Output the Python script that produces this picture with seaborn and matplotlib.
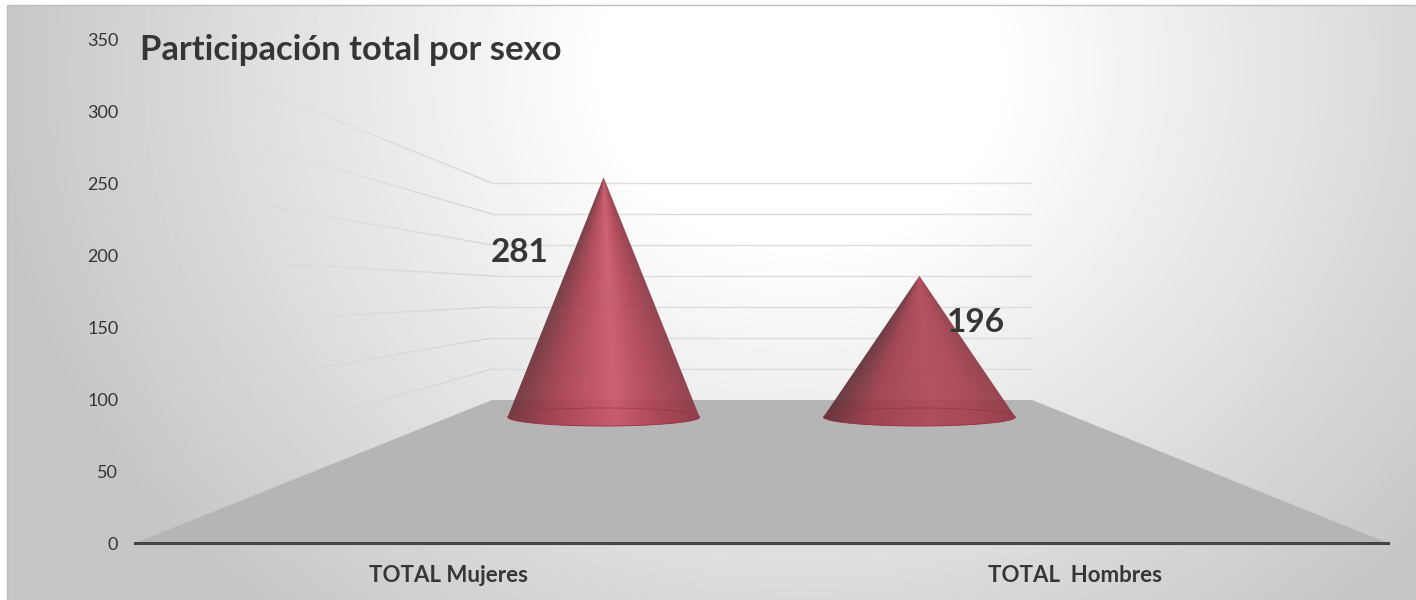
import numpy as np
import pandas as pd
import matplotlib.pyplot as plt
import seaborn as sns
from matplotlib.collections import LineCollection
from matplotlib.colors import LinearSegmentedColormap
from matplotlib.patches import Polygon, Rectangle

# --------------------- data ---------------------
categories = ["TOTAL Mujeres", "TOTAL  Hombres"]
data_labels = [281, 196]
cone_tops = [254, 185.5]     # apex height read against the front axis
cone_base = 87.5             # floor height under the cones, front axis
y_ticks = [0, 50, 100, 150, 200, 250, 300, 350]
title = "Participación total por sexo"

# perspective of the back wall
back_left, back_right = 0.07, 0.932
back_floor, back_scale = 99.3, 0.4306
depth_scale = 0.504

W, H = 1416, 600
TEXT = "#363636"

sns.set_theme(style="white")
plt.rcParams["font.family"] = ["Lato", "DejaVu Sans"]

fig = plt.figure(figsize=(W / 100, H / 100), dpi=100, facecolor="white")

# --------------------- background gradient ---------------------
bg = fig.add_axes([0, 0, 1, 1], zorder=0)
px, py = np.meshgrid(np.arange(7, W), np.arange(5, H))
d = np.sqrt(((px - 800) / 810) ** 2 + ((py - 70) / 720) ** 2)
shade = 255 - 57 * np.clip((d - 0.24) / 0.76, 0, 1)
bg.imshow(shade, cmap="gray", vmin=0, vmax=255, extent=(7, W, H, 5), aspect="auto")
bg.set_xlim(0, W)
bg.set_ylim(H, 0)
bg.axis("off")
bg.add_patch(Rectangle((7, 5), W, H, fill=False, ec="#bdbdbd", lw=1))

# --------------------- main axes ---------------------
ax = fig.add_axes([135 / W, (H - 543) / H, 1253 / W, 504 / H], zorder=1)
ax.patch.set_alpha(0)

df = pd.DataFrame({"categoria": categories, "valor": cone_tops})
sns.barplot(data=df, x="categoria", y="valor", width=0.608, ax=ax)
bars = list(ax.patches)
for b in bars:
    b.set_visible(False)

ax.set_xlim(-0.5, 1.5)
ax.set_ylim(0, 350)
ax.set_xlabel("")
ax.set_ylabel("")
ax.set_yticks(y_ticks)
ax.tick_params(axis="y", length=0, pad=12, labelsize=13, labelcolor=TEXT)
ax.tick_params(axis="x", length=0, pad=16, labelsize=16, labelcolor=TEXT)
for t in ax.get_xticklabels():
    t.set_fontweight("bold")
sns.despine(ax=ax, left=True, top=True, right=True)
ax.spines["bottom"].set_color("#454545")
ax.spines["bottom"].set_linewidth(2.2)

# floor
ax.add_patch(Polygon([(-0.5, 0), (1.5, 0), (back_right, back_floor), (back_left, back_floor)],
                     fc="#b5b5b5", ec="none", zorder=1))

# back wall + fading side wall gridlines
for v in y_ticks[1:]:
    yb = back_floor + back_scale * v
    ax.plot([back_left, back_right], [yb, yb], color="#dcdcdc", lw=1, zorder=1.5)
    xs = np.linspace(-0.5, back_left, 41)
    ys = np.linspace(v, yb, 41)
    segs = np.stack([np.column_stack([xs[:-1], ys[:-1]]), np.column_stack([xs[1:], ys[1:]])], axis=1)
    grey = np.linspace(0.88, 0.83, 40)
    cols = [(g, g, g, a) for g, a in zip(grey, np.linspace(0.1, 1, 40))]
    ax.add_collection(LineCollection(segs, colors=cols, lw=1, zorder=1.5))

# --------------------- cones ---------------------
cone_stops = [
    ["#6e3039", "#a83d4e", "#c45066", "#c8556a", "#ad3f51", "#8a3643"],
    ["#5f2c33", "#9e3a4a", "#ac4254", "#b04456", "#a83f50", "#8f3845"],
]
stop_pos = [0, 0.25, 0.5, 0.56, 0.78, 1]
center = 0.5
base_dy = 9 / 1.44  # half height of base ellipse

for b, top, stops, value, off in zip(bars, cone_tops, cone_stops, data_labels, [(-84, -75), (57, -47)]):
    cx = center + (b.get_x() + b.get_width() / 2 - center) * depth_scale
    hw = b.get_width() / 2 * depth_scale
    cmap = LinearSegmentedColormap.from_list("cone", list(zip(stop_pos, stops)))

    gx, gy = np.meshgrid(np.linspace(cx - hw, cx + hw, 300),
                         np.linspace(top, cone_base - base_dy, 400))
    w = np.maximum(hw * (top - gy) / (top - cone_base), 1e-4)
    w = np.minimum(w, hw)
    u = np.clip((gx - cx) / w, -1, 1) * 0.5 + 0.5
    im = ax.imshow(cmap(u), extent=(cx - hw, cx + hw, cone_base - base_dy, top),
                   aspect="auto", origin="upper", alpha=0.92, zorder=3,
                   interpolation="bilinear")

    t = np.linspace(np.pi, 2 * np.pi, 60)
    arc_x = cx + hw * np.cos(t)
    arc_y = cone_base + base_dy * np.sin(t)
    outline = Polygon(np.vstack([[(cx, top)], np.column_stack([arc_x, arc_y])]),
                      closed=True, transform=ax.transData, fc="none", ec="none")
    ax.add_patch(outline)
    im.set_clip_path(outline)

    ax.plot(arc_x, arc_y, color="#9c2b3f", lw=0.6, zorder=4)
    ax.plot(arc_x, 2 * cone_base - arc_y, color="#9c2b3f", lw=0.6, alpha=0.7, zorder=4)

    ax.annotate(str(value), xy=(cx, top), xytext=off, textcoords="offset pixels",
                ha="center", va="center", fontsize=24, fontweight="bold", color=TEXT, zorder=5)

ax.set_xlim(-0.5, 1.5)
ax.set_ylim(0, 350)

fig.text(140 / W, 1 - 50 / H, title, ha="left", va="center", fontsize=24.9,
         fontweight="bold", color=TEXT, zorder=5)

fig.savefig("out.png", dpi=100)
